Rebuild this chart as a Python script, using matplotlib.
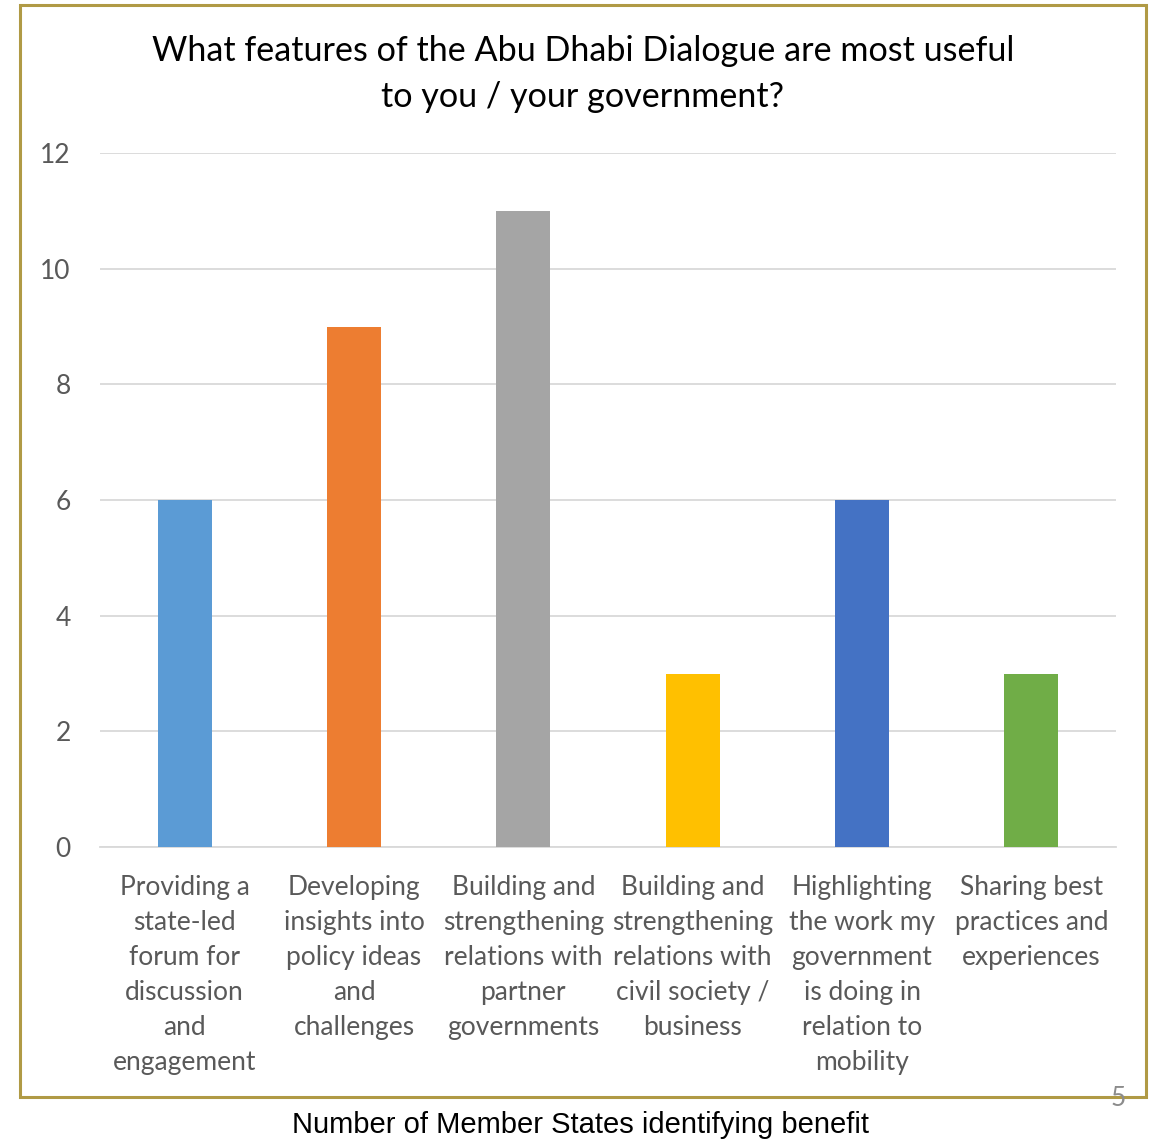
import matplotlib.pyplot as plt
from matplotlib.patches import Rectangle

categories = [
    'Providing a\nstate-led\nforum for\ndiscussion\nand\nengagement',
    'Developing\ninsights into\npolicy ideas\nand\nchallenges',
    'Building and\nstrengthening\nrelations with\npartner\ngovernments',
    'Building and\nstrengthening\nrelations with\ncivil society /\nbusiness',
    'Highlighting\nthe work my\ngovernment\nis doing in\nrelation to\nmobility',
    'Sharing best\npractices and\nexperiences',
]
values = [6, 9, 11, 3, 6, 3]
bar_colors = ['#5B9BD5', '#ED7D31', '#A5A5A5', '#FFC000', '#4472C4', '#70AD47']
yticks = [0, 2, 4, 6, 8, 10, 12]

W, H = 1161, 1142
fig = plt.figure(figsize=(W / 100, H / 100), dpi=100)
fig.patch.set_facecolor('white')

# golden frame
fig.patches.append(Rectangle((20 / W, 1 - 1097 / H), 1126 / W, 1092 / H,
                             transform=fig.transFigure, fill=False,
                             edgecolor='#B09A45', linewidth=2.2))

ax = fig.add_axes([100 / W, 1 - 847 / H, 1016 / W, 694 / H])
x = range(len(values))
ax.bar(x, values, width=0.32, color=bar_colors, zorder=3)
ax.set_xlim(-0.5, len(values) - 0.5)
ax.set_ylim(0, 12)
ax.set_yticks(yticks)
ax.grid(axis='y', color='#D9D9D9', linewidth=1.3, zorder=0)
for s in ['top', 'right', 'left']:
    ax.spines[s].set_visible(False)
ax.spines['bottom'].set_color('#D9D9D9')
ax.spines['bottom'].set_linewidth(1.3)
ax.set_xticks(list(x))
ax.set_xticklabels(categories, fontfamily='Lato', fontsize=19, color='#595959',
                   linespacing=1.5)
ax.tick_params(axis='y', length=0, pad=21, labelsize=19, labelcolor='#595959')
ax.tick_params(axis='x', length=0, pad=20.5)
for lab in ax.get_yticklabels():
    lab.set_fontfamily('Lato')

fig.text(0.502, 1 - 74 / H,
         'What features of the Abu Dhabi Dialogue are most useful\nto you / your government?',
         ha='center', va='center', fontfamily='Lato', fontsize=24.6, color='black',
         linespacing=1.52)

fig.text(580 / W, 1 - 1125 / H, 'Number of Member States identifying benefit',
         ha='center', va='center', fontfamily='Liberation Sans', fontsize=21,
         color='black')
fig.text(1118 / W, 1 - 1099 / H, '5', ha='center', va='center',
         fontfamily='Lato', fontsize=19, color='#8C8C8C')

fig.savefig('out.png', dpi=100, facecolor='white')
